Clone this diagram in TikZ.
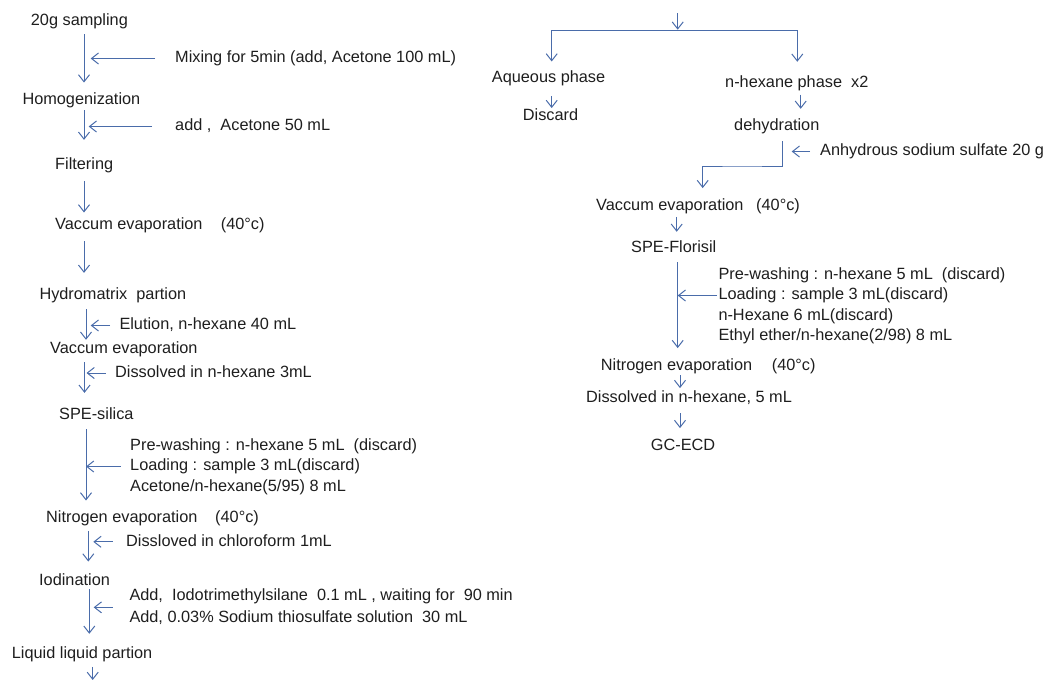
\documentclass[tikz,border=0pt]{standalone}
\usepackage{fontspec}
\setmainfont{Liberation Sans}
\usetikzlibrary{arrows.meta,calc}
\definecolor{flowblue}{RGB}{74,108,170}
\definecolor{inkgray}{RGB}{30,30,30}
\begin{document}
\begin{tikzpicture}[x=1pt,y=-1pt,
  stage/.style={anchor=west,inner sep=0pt,text height=12pt,text depth=3.5pt,text=inkgray,font=\fontsize{16.3}{20}\selectfont},
  flow/.style={draw=flowblue,line width=1pt,-{Straight Barb[length=7pt,width=11pt]}}]
\useasboundingbox (0,0) rectangle (1050,680);
\node[stage] (s1) at (30.7,21.5) {20g sampling};
\node[stage] (s2) at (22.3,100.5) {Homogenization};
\node[stage] (s3) at (55,164.8) {Filtering};
\node[stage] (s4) at (55,224.8) {Vaccum evaporation};
\node[stage] (s4t) at (220.7,225.5) {(40°c)};
\node[stage] (s5) at (39.3,294.8) {Hydromatrix\ \ partion};
\node[stage] (s6) at (50,349.2) {Vaccum evaporation};
\node[stage] (s7) at (59,414.8) {SPE-silica};
\node[stage] (s8) at (46,518.2) {Nitrogen evaporation};
\node[stage] (s8t) at (215,518.2) {(40°c)};
\node[stage] (s9) at (39,581.5) {Iodination};
\node[stage] (s10) at (11.7,654.2) {Liquid liquid partion};
\coordinate (out) at (92.7,680);
\node[stage] (m1) at (175,58.5) {Mixing for 5min (add, Acetone 100 mL)};
\node[stage] (m2) at (175,126.5) {add ,\ \ Acetone 50 mL};
\node[stage] (m3) at (119.3,325.5) {Elution, n-hexane 40 mL};
\node[stage] (m4) at (115,373) {Dissolved in n-hexane 3mL};
\node[stage] (m5a) at (130,445.8) {Pre-washing : n-hexane 5 mL\ \ (discard)};
\node[stage] (m5b) at (130,466.5) {Loading : sample 3 mL(discard)};
\node[stage] (m5c) at (130,487.2) {Acetone/n-hexane(5/95) 8 mL};
\node[stage] (m6) at (126,541.8) {Dissloved in chloroform 1mL};
\node[stage] (m7a) at (129.3,596.5) {Add,\ \ Iodotrimethylsilane\ \ 0.1 mL , waiting for\ \ 90 min};
\node[stage] (m7b) at (129.3,618.2) {Add, 0.03\% Sodium thiosulfate solution\ \ 30 mL};
\coordinate (m7m) at ($(m7a.west)!0.5!(m7b.west)$);
\draw[flow,shorten <=4.75pt,shorten >=10pt] (84,0 |- s1.south) -- (84,0 |- s2.north);
\draw[flow,shorten <=1.75pt,shorten >=17pt] (84,0 |- s2.south) -- (84,0 |- s3.north);
\draw[flow,shorten <=8.15pt,shorten >=4.35pt] (84,0 |- s3.south) -- (84,0 |- s4.north);
\draw[flow,shorten <=8.45pt,shorten >=14pt] (84,0 |- s4.south) -- (84,0 |- s5.north);
\draw[flow,shorten <=6.45pt,shorten >=1.45pt] (86,0 |- s5.south) -- (86,0 |- s6.north);
\draw[flow,shorten <=5pt,shorten >=14pt] (84.5,0 |- s6.south) -- (84.5,0 |- s7.north);
\draw[flow,shorten <=6.45pt,shorten >=9.75pt] (86,0 |- s7.south) -- (86,0 |- s8.north);
\draw[flow,shorten <=4.75pt,shorten >=12pt] (88.3,0 |- s8.south) -- (88.3,0 |- s9.north);
\draw[flow,shorten >=12.45pt] (89.3,0 |- s9.south) -- (89.3,0 |- s10.north);
\draw[flow,shorten <=4.75pt] (92.7,0 |- s10.south) -- (out);
\draw[flow] ([xshift=-20pt]m1.west) -- (90.7,0 |- m1.west);
\draw[flow] ([xshift=-23pt]m2.west) -- (88.7,0 |- m2.west);
\draw[flow] ([xshift=-9.3pt]m3.west) -- (90.7,0 |- m3.west);
\draw[flow] ([xshift=-9.3pt]m4.west) -- (86.5,0 |- m4.west);
\draw[flow] ([xshift=-9.3pt]m5b.west) -- (86,0 |- m5b.west);
\draw[flow] ([xshift=-13.3pt]m6.west) -- (93.3,0 |- m6.west);
\draw[flow] ([xshift=-16.6pt]m7m) -- (93.7,0 |- m7m);
\coordinate (top) at (677.7,13);
\coordinate (split) at (677.7,30.7);
\node[stage] (aq) at (491.7,78.2) {Aqueous phase};
\node[stage] (dis) at (522.7,116.5) {Discard};
\node[stage] (hx) at (725,83.2) {n-hexane phase\ \ x2};
\node[stage] (deh) at (734,126.5) {dehydration};
\node[stage] (an) at (820,151.5) {Anhydrous sodium sulfate 20 g};
\coordinate (knee) at (742,166);
\node[stage] (v2) at (596,206.5) {Vaccum evaporation};
\node[stage] (v2t) at (756,206.5) {(40°c)};
\node[stage] (fl) at (631,248.2) {SPE-Florisil};
\node[stage] (r1) at (718.3,274.8) {Pre-washing : n-hexane 5 mL\ \ (discard)};
\node[stage] (r2) at (718.3,295.5) {Loading : sample 3 mL(discard)};
\node[stage] (r3) at (718.3,316.5) {n-Hexane 6 mL(discard)};
\node[stage] (r4) at (718.3,336.5) {Ethyl ether/n-hexane(2/98) 8 mL};
\node[stage] (n2) at (600.7,366.5) {Nitrogen evaporation};
\node[stage] (n2t) at (771.7,366.5) {(40°c)};
\node[stage] (dv) at (586,398.2) {Dissolved in n-hexane, 5 mL};
\node[stage] (gc) at (650.7,446.5) {GC-ECD};
\draw[flow,shorten >=1pt] (top) -- (split);
\draw[flow,shorten >=8.75pt] (split) -| (551.7,0 |- aq.north);
\draw[flow,shorten >=13.5pt] (split) -| (797.3,0 |- hx.north);
\draw[flow,shorten <=10pt,shorten >=0.5pt] (551.7,0 |- aq.south) -- (551.7,0 |- dis.north);
\draw[flow,shorten <=3.4pt,shorten >=9.75pt] (800.7,0 |- hx.south) -- (800.7,0 |- deh.north);
\draw[flow,shorten <=6.75pt,shorten >=10.45pt] (782.7,0 |- deh.south) |- (knee) -| (702.7,0 |- v2.north);
\draw[flow] ([xshift=-10pt]an.west) -- (791.7,0 |- an.west);
\draw[flow,shorten <=2.45pt,shorten >=8.45pt] (676.7,0 |- v2.south) -- (676.7,0 |- fl.north);
\draw[flow,shorten <=6pt,shorten >=10.45pt] (677.7,0 |- fl.south) -- (677.7,0 |- n2.north);
\draw[flow] ([xshift=-1.3pt]r2.west) -- (677.7,0 |- r2.west);
\draw[flow,shorten <=0.75pt,shorten >=2.15pt] (680,0 |- n2.south) -- (680,0 |- dv.north);
\draw[flow,shorten <=7pt,shorten >=10.45pt] (680,0 |- dv.south) -- (680,0 |- gc.north);
\end{tikzpicture}
\end{document}
